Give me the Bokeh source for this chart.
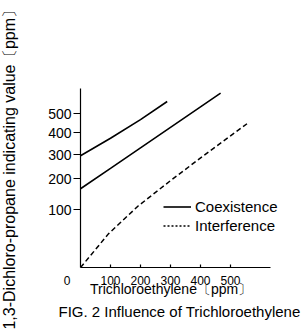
import numpy as np
from bokeh.plotting import figure
from bokeh.models import Range1d, FixedTicker, Label, Legend, LegendItem
from bokeh.embed import file_html
from bokeh.resources import INLINE

# ---- data (ppm) ----
X_TICKS = [100, 200, 300, 400, 500]
Y_TICKS = [100, 200, 300, 400, 500]

coex_upper_x = [0, 100, 200, 289]
coex_upper_y = [295, 374, 468, 563]
coex_lower_x = [0, 100, 200, 300, 400, 467]
coex_lower_y = [167, 242, 330, 427, 535, 607]
interf_x = [0, 50, 93, 193, 300, 411, 500, 555]
interf_y = [0, 31, 58, 112, 193, 296, 385, 446]

# non-uniform vertical scale of the original figure (value -> axis position)
Y_SCALE_VALUES = [0, 100, 200, 300, 400, 500, 700]
Y_SCALE_POS = [0, 58, 89, 113, 135, 154, 192]


def ypos(v):
    return [float(t) for t in np.interp(v, Y_SCALE_VALUES, Y_SCALE_POS)]


FONT = "Liberation Sans"
X_MAX = 633.33

p = figure(width=304, height=332, x_range=Range1d(0, 700), y_range=Range1d(0, 179),
           output_backend="svg", toolbar_location=None,
           min_border_left=80, min_border_right=14, min_border_top=88, min_border_bottom=65)
p.outline_line_color = None
p.grid.visible = False
p.background_fill_color = "white"
p.border_fill_color = "white"

# x axis
xa = p.xaxis[0]
xa.bounds = (0, X_MAX)
xa.ticker = FixedTicker(ticks=X_TICKS)
xa.major_tick_in = 3
xa.major_tick_out = 0
xa.minor_tick_line_color = None
xa.major_label_text_font = FONT
xa.major_label_text_font_size = "12px"
xa.major_label_text_color = "black"
xa.major_label_standoff = 8
xa.axis_line_color = "black"
xa.axis_line_width = 1.2
xa.major_tick_line_color = "black"
xa.major_tick_line_width = 1.2

# y axis
ya = p.yaxis[0]
ytick_pos = ypos(Y_TICKS)
ya.ticker = FixedTicker(ticks=ytick_pos)
ya.major_label_overrides = {tp: str(v) for tp, v in zip(ytick_pos, Y_TICKS)}
ya.major_tick_in = 0
ya.major_tick_out = 7
ya.minor_tick_line_color = None
ya.major_label_text_font = FONT
ya.major_label_text_font_size = "14px"
ya.major_label_text_color = "black"
ya.major_label_standoff = 2
ya.axis_line_color = "black"
ya.axis_line_width = 1.2
ya.major_tick_line_color = "black"
ya.major_tick_line_width = 1.2

# curves
r_up = p.line(coex_upper_x, ypos(coex_upper_y), line_color="black", line_width=1.6)
p.line(coex_lower_x, ypos(coex_lower_y), line_color="black", line_width=1.6)
p.line(interf_x, ypos(interf_y), line_color="black", line_width=1.5, line_dash="5 3")
r_leg_dot = p.line(interf_x[:1], ypos(interf_y[:1]), line_color="black", line_width=1.3,
                   line_dash="2 2")

legend = Legend(items=[LegendItem(label="Coexistence", renderers=[r_up]),
                       LegendItem(label="Interference", renderers=[r_leg_dot])],
                location=(83, 32.5))
legend.border_line_color = None
legend.background_fill_alpha = 0
legend.padding = 0
legend.margin = 0
legend.spacing = 0
legend.glyph_width = 28
legend.glyph_height = 19
legend.label_height = 19
legend.label_standoff = 4
legend.label_text_font = FONT
legend.label_text_font_size = "15px"
legend.label_text_color = "black"
p.add_layout(legend)


# texts outside the frame (placed in side panels so they are not clipped)
def add_text(text, x, y, size, side, align="center", baseline="alphabetic", angle=0):
    p.add_layout(Label(x=x, y=y, x_units="data", y_units="data", text=text,
                       text_font=FONT, text_font_size=size, text_color="black",
                       text_align=align, text_baseline=baseline, angle=angle), side)


add_text("0", -44.3, -12.8, "12px", "below")
add_text("Trichloroethylene〔ppm〕", 302, -21.5, "14px", "below")
add_text("FIG. 2 Influence of Trichloroethylene", 330, -44.3, "15px", "below")
add_text("1,3-Dichloro-propane indicating value", -238, 70.5, "16px", "left",
         baseline="middle", angle=np.pi / 2)
add_text("〔ppm〕", -238, 234, "16px", "left", baseline="middle", angle=np.pi / 2)

open("out.html", "w").write(file_html(p, INLINE))
